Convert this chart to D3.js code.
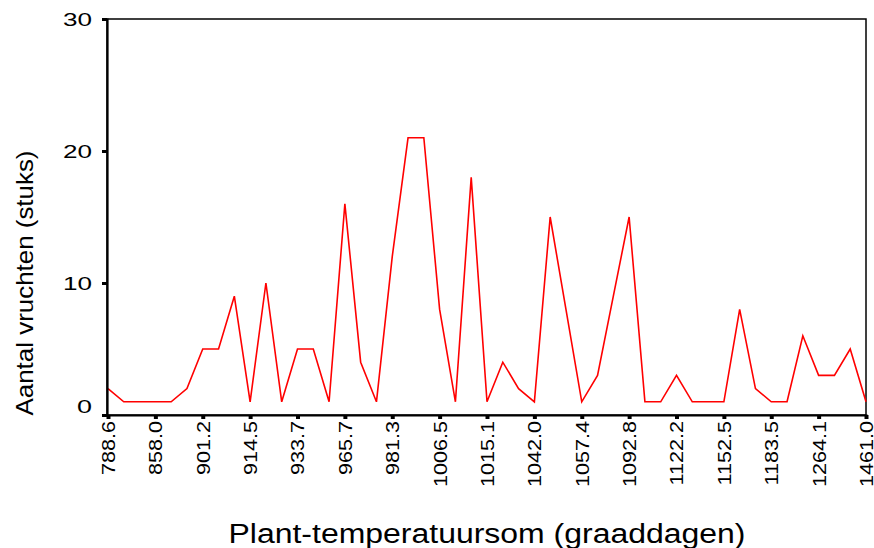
<!DOCTYPE html>
<html>
<head>
<meta charset="utf-8">
<script src="https://d3js.org/d3.v7.min.js"></script>
<style>
  body { margin: 0; background: #fff; }
  svg { display: block; font-family: "Liberation Sans", Arial, sans-serif; }
</style>
</head>
<body>
<div id="grafico"></div>
<script>
// datos (49 puntos, etiqueta cada 3)
var tickLabels = ["788.6", "858.0", "901.2", "914.5", "933.7", "965.7", "981.3", "1006.5", "1015.1",
  "1042.0", "1057.4", "1092.8", "1122.2", "1152.5", "1183.5", "1264.1", "1461.0"];
var vruchten = [2, 1, 1, 1, 1, 2, 5, 5, 9, 1, 10, 1, 5, 5, 1, 16, 4, 1, 12, 21, 21, 8, 1, 18, 1,
  4, 2, 1, 15, 8, 1, 3, 9, 15, 1, 1, 3, 1, 1, 1, 8, 2, 1, 1, 6, 3, 3, 5, 1];
var yTicks = [0, 10, 20, 30];

var width = 874, height = 548;
// margenes del area del grafico
var plotLeft = 107, plotRight = 866, plotTop = 19, plotBottom = 415;

var svg = d3.select("#grafico").append("svg")
  .attr("width", width)
  .attr("height", height);

var x = d3.scalePoint()
  .domain(d3.range(vruchten.length))
  .range([plotLeft + 1, plotRight]);

var y = d3.scaleLinear()
  .domain([0, 30])
  .range([plotBottom, plotTop]);

// marco
svg.append("rect")
  .attr("x", plotLeft).attr("y", plotTop)
  .attr("width", plotRight - plotLeft).attr("height", plotBottom - plotTop)
  .attr("fill", "none")
  .attr("stroke", "#000")
  .attr("stroke-width", 1.5);

// linea roja
var line = d3.line()
  .x(function(d, i) { return x(i); })
  .y(function(d) { return y(d); });

svg.append("path")
  .datum(vruchten)
  .attr("d", line)
  .attr("fill", "none")
  .attr("stroke", "#ff0000")
  .attr("stroke-width", 1.6)
  .attr("stroke-linejoin", "miter");

// eje y
var yAxis = svg.append("g")
  .attr("transform", "translate(" + plotLeft + ",0)")
  .call(d3.axisLeft(y).tickValues(yTicks).tickSize(5).tickPadding(10));
yAxis.select(".domain").attr("stroke-width", 2.2);
yAxis.selectAll(".tick line").attr("stroke-width", 3);
yAxis.selectAll(".tick text")
  .attr("font-size", 19)
  .attr("fill", "#000")
  .attr("dy", function(d) { return d === 0 ? "-0.15em" : "0.35em"; })
  .attr("textLength", function(d) { return d === 0 ? 15 : 29; })
  .attr("lengthAdjust", "spacingAndGlyphs");

// eje x
var xAxis = svg.append("g")
  .attr("transform", "translate(0," + plotBottom + ")")
  .call(d3.axisBottom(x)
    .tickValues(d3.range(0, vruchten.length, 3))
    .tickFormat(function(d) { return tickLabels[d / 3]; })
    .tickSize(4));
xAxis.select(".domain").attr("stroke-width", 2.2);
xAxis.selectAll(".tick line").attr("stroke-width", 4);
xAxis.selectAll(".tick text")
  .attr("font-size", 18)
  .attr("fill", "#000")
  .attr("transform", "rotate(-90)")
  .attr("text-anchor", "end")
  .attr("x", -6)
  .attr("y", 0)
  .attr("dy", "0.36em")
  .each(function() {
    // estirar un poco el texto como en el original
    var l = this.getComputedTextLength();
    d3.select(this).attr("textLength", l * 1.2).attr("lengthAdjust", "spacingAndGlyphs");
  });

// titulos de los ejes
svg.append("text")
  .attr("transform", "translate(33," + 283 + ") rotate(-90)")
  .attr("text-anchor", "middle")
  .attr("font-size", 24)
  .attr("textLength", 265)
  .attr("lengthAdjust", "spacingAndGlyphs")
  .text("Aantal vruchten (stuks)");

svg.append("text")
  .attr("x", 487)
  .attr("y", 543)
  .attr("text-anchor", "middle")
  .attr("font-size", 27)
  .attr("textLength", 517)
  .attr("lengthAdjust", "spacingAndGlyphs")
  .text("Plant-temperatuursom (graaddagen)");
</script>
</body>
</html>
